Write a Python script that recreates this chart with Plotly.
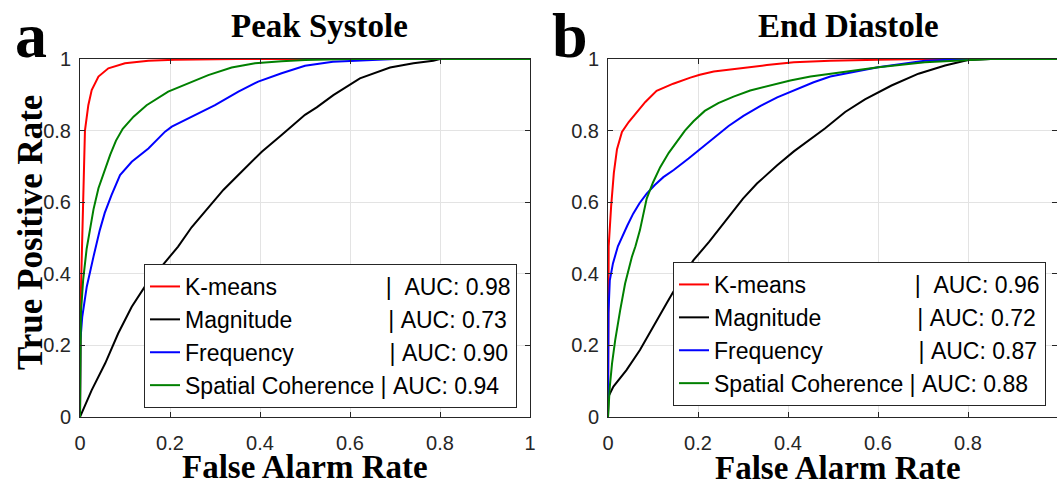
import plotly.graph_objects as go

W, H = 1057, 485

methods = ["K-means", "Magnitude", "Frequency", "Spatial Coherence"]
colors = ["#ff0000", "#000000", "#0000ff", "#008000"]
auc_ps = ["0.98", "0.73", "0.90", "0.94"]
auc_ed = ["0.96", "0.72", "0.87", "0.88"]
pad_spaces = [17, 15, 15, 1]
pad_after = [2, 1, 1, 1]

# Peak Systole ROC curves
ps_kmeans_fpr = [0, 0.0005, 0.002, 0.004, 0.005, 0.008, 0.011, 0.0185, 0.026, 0.041, 0.063, 0.10, 0.152, 0.21, 0.35, 1.0]
ps_kmeans_tpr = [0, 0.15, 0.35, 0.45, 0.50, 0.65, 0.80, 0.871, 0.913, 0.951, 0.974, 0.988, 0.995, 0.998, 1.0, 1.0]

ps_mag_fpr = [0, 0.026, 0.056, 0.085, 0.115, 0.144, 0.181, 0.218, 0.248, 0.285, 0.319, 0.359, 0.404, 0.448, 0.5, 0.526, 0.563, 0.622, 0.689, 0.741, 0.785, 0.80, 1.0]
ps_mag_tpr = [0, 0.075, 0.15, 0.234, 0.308, 0.364, 0.42, 0.476, 0.53, 0.585, 0.635, 0.685, 0.741, 0.788, 0.844, 0.865, 0.899, 0.946, 0.976, 0.988, 0.995, 1.0, 1.0]

ps_freq_fpr = [0, 0.0005, 0.001, 0.005, 0.015, 0.03, 0.044, 0.055, 0.07, 0.089, 0.115, 0.152, 0.189, 0.204, 0.256, 0.30, 0.352, 0.396, 0.448, 0.5, 0.562, 0.637, 0.70, 1.0]
ps_freq_tpr = [0, 0.10, 0.215, 0.28, 0.364, 0.448, 0.522, 0.57, 0.62, 0.676, 0.713, 0.75, 0.797, 0.811, 0.844, 0.871, 0.909, 0.937, 0.96, 0.981, 0.992, 0.997, 1.0, 1.0]

ps_spat_fpr = [0, 0.001, 0.002, 0.007, 0.0148, 0.022, 0.03, 0.041, 0.055, 0.067, 0.08, 0.095, 0.119, 0.148, 0.196, 0.241, 0.285, 0.337, 0.389, 0.448, 0.5, 0.6, 1.0]
ps_spat_tpr = [0, 0.12, 0.29, 0.383, 0.47, 0.522, 0.58, 0.639, 0.69, 0.732, 0.772, 0.805, 0.839, 0.871, 0.909, 0.932, 0.955, 0.976, 0.988, 0.994, 0.997, 1.0, 1.0]

# End Diastole ROC curves
ed_kmeans_fpr = [0, 0.0003, 0.001, 0.0015, 0.007, 0.013, 0.02, 0.031, 0.046, 0.064, 0.083, 0.108, 0.145, 0.183, 0.204, 0.235, 0.294, 0.353, 0.413, 0.494, 0.6, 0.70, 1.0]
ed_kmeans_tpr = [0, 0.30, 0.42, 0.477, 0.589, 0.682, 0.748, 0.796, 0.824, 0.852, 0.88, 0.911, 0.931, 0.948, 0.956, 0.965, 0.975, 0.983, 0.991, 0.995, 0.998, 1.0, 1.0]

ed_mag_fpr = [0, 0.001, 0.012, 0.041, 0.071, 0.10, 0.13, 0.16, 0.19, 0.225, 0.25, 0.275, 0.30, 0.331, 0.376, 0.413, 0.45, 0.482, 0.527, 0.571, 0.63, 0.69, 0.749, 0.80, 0.85, 1.0]
ed_mag_tpr = [0, 0.057, 0.085, 0.131, 0.187, 0.252, 0.317, 0.382, 0.438, 0.49, 0.53, 0.57, 0.61, 0.652, 0.703, 0.742, 0.775, 0.806, 0.852, 0.887, 0.926, 0.959, 0.982, 0.997, 1.0, 1.0]

ed_freq_fpr = [0, 0.0005, 0.001, 0.004, 0.011, 0.022, 0.03, 0.043, 0.056, 0.07, 0.086, 0.104, 0.123, 0.146, 0.179, 0.213, 0.239, 0.268, 0.301, 0.339, 0.376, 0.42, 0.457, 0.494, 0.6, 0.704, 0.80, 1.0]
ed_freq_tpr = [0, 0.15, 0.29, 0.382, 0.429, 0.477, 0.50, 0.535, 0.568, 0.597, 0.624, 0.648, 0.67, 0.69, 0.722, 0.757, 0.785, 0.813, 0.841, 0.869, 0.893, 0.916, 0.935, 0.951, 0.977, 0.995, 1.0, 1.0]

ed_spat_fpr = [0, 0.004, 0.009, 0.016, 0.027, 0.038, 0.053, 0.061, 0.071, 0.086, 0.10, 0.116, 0.135, 0.155, 0.171, 0.19, 0.215, 0.245, 0.279, 0.316, 0.361, 0.405, 0.45, 0.494, 0.601, 0.704, 0.80, 0.85, 1.0]
ed_spat_tpr = [0, 0.085, 0.15, 0.215, 0.298, 0.373, 0.447, 0.477, 0.522, 0.61, 0.655, 0.698, 0.738, 0.772, 0.80, 0.826, 0.855, 0.877, 0.895, 0.912, 0.926, 0.94, 0.951, 0.958, 0.977, 0.991, 0.998, 1.0, 1.0]

ps_curves = [(ps_kmeans_fpr, ps_kmeans_tpr), (ps_mag_fpr, ps_mag_tpr), (ps_freq_fpr, ps_freq_tpr), (ps_spat_fpr, ps_spat_tpr)]
ed_curves = [(ed_kmeans_fpr, ed_kmeans_tpr), (ed_mag_fpr, ed_mag_tpr), (ed_freq_fpr, ed_freq_tpr), (ed_spat_fpr, ed_spat_tpr)]

tick_vals = [0, 0.2, 0.4, 0.6, 0.8, 1]
tick_text = ["0", "0.2", "0.4", "0.6", "0.8", "1"]

NB = "\u00a0"


def label(i, auc):
    return methods[i] + NB * pad_spaces[i] + "|" + NB * pad_after[i] + "AUC: " + auc


fig = go.Figure()
for i, (fx, ty) in enumerate(ps_curves):
    fig.add_trace(go.Scatter(x=fx, y=ty, mode="lines", name=label(i, auc_ps[i]),
                             line=dict(color=colors[i], width=2), xaxis="x", yaxis="y",
                             legend="legend", hoverinfo="skip"))
for i, (fx, ty) in enumerate(ed_curves):
    fig.add_trace(go.Scatter(x=fx, y=ty, mode="lines", name=label(i, auc_ed[i]),
                             line=dict(color=colors[i], width=2), xaxis="x2", yaxis="y2",
                             legend="legend2", hoverinfo="skip"))


def px(x):
    return x / W


def py(y):
    return 1 - y / H


axis_common = dict(
    showline=True, linecolor="#262626", linewidth=1, mirror="ticks",
    ticks="inside", ticklen=5, tickcolor="#262626", tickwidth=1,
    showgrid=True, gridcolor="#e3e3e3", gridwidth=1, zeroline=False,
    automargin=False,
    tickfont=dict(family="Liberation Sans", size=20, color="#262626"),
    tickvals=tick_vals, ticktext=tick_text,
)

ydom = [py(417), py(59)]
leg_font = dict(family="Liberation Sans", size=23, color="#000000")
fig.update_layout(
    template="none",
    width=W, height=H, margin=dict(l=0, r=0, t=0, b=0, pad=0, autoexpand=False),
    paper_bgcolor="white", plot_bgcolor="white",
    xaxis=dict(domain=[px(80), px(530)], range=[0, 1], anchor="y", ticklabelstandoff=8, **axis_common),
    yaxis=dict(domain=ydom, range=[0, 1], anchor="x", ticklabelstandoff=4, **axis_common),
    xaxis2=dict(domain=[px(608), 1.0], range=[0, (W - 608) / 450], anchor="y2", ticklabelstandoff=8, **axis_common),
    yaxis2=dict(domain=ydom, range=[0, 1], anchor="x2", ticklabelstandoff=4, **axis_common),
    legend=dict(x=px(517), y=py(408), xanchor="right", yanchor="bottom",
                bgcolor="white", bordercolor="#262626", borderwidth=1,
                font=leg_font, tracegroupgap=0),
    legend2=dict(x=px(1046), y=py(406), xanchor="right", yanchor="bottom",
                 bgcolor="white", bordercolor="#262626", borderwidth=1,
                 font=leg_font, tracegroupgap=0),
    showlegend=True,
)

serif = "Liberation Serif"
ann = [
    dict(text="<b>Peak Systole</b>", x=px(319), y=py(26), size=33),
    dict(text="<b>End Diastole</b>", x=px(848), y=py(26), size=33),
    dict(text="<b>False Alarm Rate</b>", x=px(305), y=py(467), size=33),
    dict(text="<b>False Alarm Rate</b>", x=px(838), y=py(468), size=33),
    dict(text="<b>a</b>", x=px(31), y=py(36), size=64),
    dict(text="<b>b</b>", x=px(570), y=py(36), size=64),
]
for a in ann:
    fig.add_annotation(text=a["text"], x=a["x"], y=a["y"], xref="paper", yref="paper",
                       xanchor="center", yanchor="middle", showarrow=False,
                       font=dict(family=serif, size=a["size"], color="#000000"))
fig.add_annotation(text="<b>True Positive Rate</b>", x=px(30), y=py(233), xref="paper", yref="paper",
                   xanchor="center", yanchor="middle", showarrow=False, textangle=-90,
                   font=dict(family=serif, size=35, color="#000000"))

fig.write_html("out.html")
